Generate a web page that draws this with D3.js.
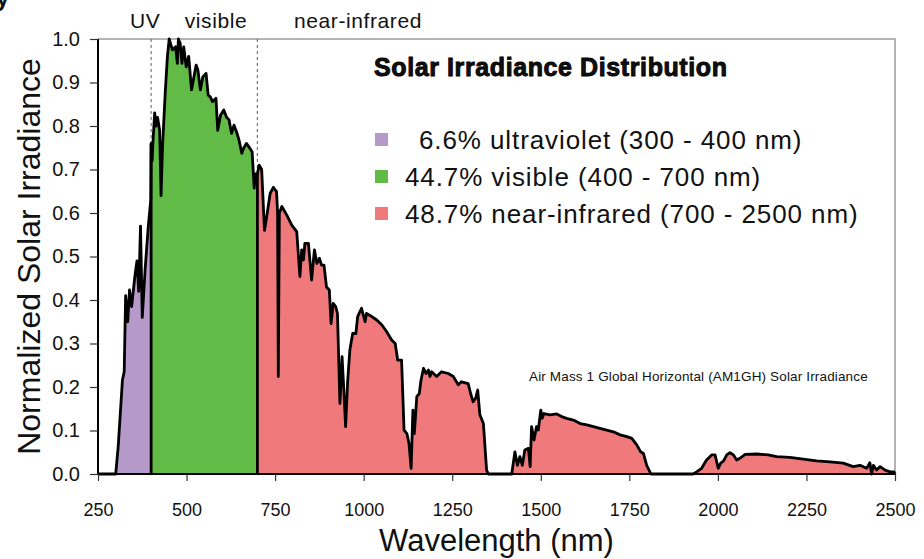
<!DOCTYPE html>
<html lang="en">
<head>
  <meta charset="UTF-8">
  <title>Solar Irradiance Distribution</title>
  <script src="https://d3js.org/d3.v7.min.js"></script>
  <style>
    body { margin: 0; background: #fff; }
    text { font-family: "Liberation Sans", Arial, sans-serif; fill: #111; }
  </style>
</head>
<body>
  <svg id="chart" width="924" height="559"></svg>

  <script>
    // wavelength (nm) and normalized irradiance
    const wavelengths = [250, 300, 307, 319, 324, 328, 334, 339, 345, 354, 360, 365, 370, 375, 383, 392, 399,
      400, 401, 403, 405, 410, 414, 418, 424, 428, 432, 440, 446, 451, 460, 469, 474, 477, 482, 487, 492, 499,
      506, 514, 527, 532, 539, 546, 555, 561, 567, 573, 583, 588, 596, 605, 613, 620, 627, 634, 641, 648, 656,
      661, 669, 676, 685, 691, 694, 700, 705, 712, 720, 726, 736, 745, 754, 757, 759, 762, 769, 783, 797, 811,
      820, 825, 830, 834, 844, 853, 861, 868, 875, 881, 888, 895, 903, 908, 914, 921, 926, 933, 939, 944, 949,
      955, 961, 969, 978, 983, 994, 1004, 1008, 1023, 1037, 1051, 1065, 1079, 1089, 1096, 1107, 1114, 1122,
      1128, 1134, 1139, 1143, 1150, 1157, 1162, 1169, 1176, 1183, 1187, 1192, 1206, 1220, 1239, 1253, 1267,
      1276, 1295, 1302, 1309, 1316, 1322, 1328, 1338, 1347, 1352, 1418, 1427, 1434, 1441, 1448, 1455, 1465,
      1470, 1474, 1481, 1488, 1493, 1500, 1504, 1509, 1526, 1545, 1559, 1573, 1592, 1611, 1630, 1649, 1667,
      1686, 1705, 1724, 1743, 1757, 1771, 1782, 1790, 1799, 1811, 1930, 1940, 1954, 1968, 1983, 1992, 2001,
      2008, 2016, 2025, 2034, 2044, 2053, 2062, 2077, 2110, 2142, 2166, 2203, 2241, 2279, 2316, 2354, 2382,
      2401, 2420, 2429, 2434, 2439, 2448, 2458, 2472, 2486, 2497, 2500];

    const irradiance = [0, 0, 0.063, 0.216, 0.235, 0.41, 0.35, 0.423, 0.385, 0.454, 0.49, 0.42, 0.57, 0.36, 0.47, 0.57, 0.63,
      0.76, 0.76, 0.72, 0.76, 0.83, 0.80, 0.82, 0.79, 0.64, 0.75, 0.88, 0.96, 1.0, 0.975, 0.982, 0.944, 1.0, 0.99, 0.944, 0.982, 0.936,
      0.96, 0.883, 0.94, 0.929, 0.883, 0.913, 0.921, 0.871, 0.867, 0.856, 0.864, 0.79, 0.825, 0.837, 0.82, 0.814, 0.783, 0.802, 0.787, 0.768, 0.737,
      0.749, 0.76, 0.752, 0.741, 0.657, 0.69, 0.69, 0.71, 0.70, 0.56, 0.59, 0.645, 0.659, 0.649, 0.60, 0.224, 0.60, 0.615, 0.595, 0.572, 0.557,
      0.454, 0.515, 0.492, 0.53, 0.53, 0.446, 0.515, 0.484, 0.496, 0.48, 0.48, 0.43, 0.423, 0.346, 0.392, 0.385, 0.369, 0.162, 0.27, 0.193, 0.109,
      0.216, 0.285, 0.323, 0.323, 0.362, 0.381, 0.35, 0.369, 0.362, 0.354, 0.343, 0.327, 0.308, 0.30, 0.262, 0.262, 0.101, 0.093,
      0.07, 0.013, 0.147, 0.093, 0.178, 0.185, 0.216, 0.243, 0.231, 0.239, 0.224, 0.235, 0.224, 0.235, 0.231, 0.224, 0.205,
      0.212, 0.208, 0.185, 0.166, 0.174, 0.193, 0.136, 0.116, 0.009, 0, 0, 0.051, 0.02, 0.04, 0.02, 0.055, 0.059,
      0.017, 0.109, 0.078, 0.109, 0.101, 0.147, 0.128, 0.139, 0.136, 0.138, 0.132, 0.128, 0.124, 0.116, 0.113, 0.109, 0.105,
      0.101, 0.097, 0.09, 0.086, 0.082, 0.067, 0.051, 0.047, 0.02, 0, 0, 0.005, 0.013, 0.032, 0.044, 0.044, 0.013,
      0.025, 0.03, 0.044, 0.049, 0.044, 0.032, 0.036, 0.045, 0.046, 0.044, 0.04, 0.038, 0.034, 0.03, 0.028, 0.025, 0.017,
      0.02, 0.013, 0.026, 0, 0.02, 0.009, 0.017, 0.009, 0.005, 0.005, 0];

    const bands = [
      { name: "uv", from: 250, to: 400, color: "#b59ac9" },
      { name: "visible", from: 400, to: 700, color: "#62bb46" },
      { name: "nir", from: 700, to: 2500, color: "#f07a7b" }
    ];
    const legendLabels = ["6.6% ultraviolet (300 - 400 nm)", "44.7% visible (400 - 700 nm)", "48.7% near-infrared (700 - 2500 nm)"];
    const bandLabels = [["UV", 383], ["visible", 583], ["near-infrared", 984]];
    const xTicks = [250, 500, 750, 1000, 1250, 1500, 1750, 2000, 2250, 2500];
    const yTicks = [0, 0.1, 0.2, 0.3, 0.4, 0.5, 0.6, 0.7, 0.8, 0.9, 1.0];

    const data = wavelengths.map((w, i) => ({ w: w, v: irradiance[i] }));

    const svg = d3.select("#chart");
    const margin = { top: 39, right: 29, bottom: 85, left: 98 };
    const width = 924 - margin.left - margin.right;
    const height = 559 - margin.top - margin.bottom;

    const x = d3.scaleLinear().domain([250, 2500]).range([0, width]);
    const y = d3.scaleLinear().domain([0, 1]).range([height, 0]);

    const g = svg.append("g").attr("transform", `translate(${margin.left},${margin.top})`);

    // clip paths, one per band
    const defs = svg.append("defs");
    bands.forEach(b => {
      defs.append("clipPath").attr("id", "clip-" + b.name)
        .append("rect")
        .attr("x", x(b.from)).attr("y", 0)
        .attr("width", x(b.to) - x(b.from)).attr("height", height);
    });

    const area = d3.area().x(d => x(d.w)).y0(y(0)).y1(d => y(d.v));
    const line = d3.line().x(d => x(d.w)).y(d => y(d.v));

    bands.forEach(b => {
      g.append("path")
        .datum(data)
        .attr("d", area)
        .attr("fill", b.color)
        .attr("clip-path", `url(#clip-${b.name})`);
    });

    // frame top and right
    g.append("path")
      .attr("d", `M0,0H${width}V${height}`)
      .attr("fill", "none")
      .attr("stroke", "#b3b3b3")
      .attr("stroke-width", 2);

    // dashed band borders
    [400, 700].forEach(w => {
      const v = data.find(d => d.w === w).v;
      g.append("line")
        .attr("x1", x(w)).attr("x2", x(w))
        .attr("y1", 0).attr("y2", y(v))
        .attr("stroke", "#777").attr("stroke-width", 1.2)
        .attr("stroke-dasharray", "3,3");
      g.append("line")
        .attr("x1", x(w)).attr("x2", x(w))
        .attr("y1", y(0)).attr("y2", y(v))
        .attr("stroke", "#000").attr("stroke-width", 2.8);
    });

    g.append("path")
      .datum(data)
      .attr("d", line)
      .attr("fill", "none")
      .attr("stroke", "#000")
      .attr("stroke-width", 2.8)
      .attr("stroke-linejoin", "round");

    // axes
    const xAxis = g.append("g")
      .attr("transform", `translate(0,${height})`)
      .call(d3.axisBottom(x).tickValues(xTicks).tickFormat(d3.format("d")).tickSize(7).tickPadding(22));
    const yAxis = g.append("g")
      .call(d3.axisLeft(y).tickValues(yTicks).tickFormat(d3.format(".1f")).tickSize(8).tickPadding(10));
    [xAxis, yAxis].forEach(a => {
      a.select(".domain").attr("stroke", "#000").attr("stroke-width", 2);
      a.selectAll(".tick line").attr("stroke", "#333").attr("stroke-width", 1.2);
      a.selectAll(".tick text").attr("font-family", "Liberation Sans, Arial, sans-serif").attr("fill", "#111");
    });
    xAxis.selectAll(".tick text").attr("font-size", 18);
    yAxis.selectAll(".tick text").attr("font-size", 20);
    yAxis.select(".domain").attr("d", `M0,0V${height}`);
    xAxis.select(".domain").attr("d", `M0,0H${width}`);

    // axis titles
    svg.append("text")
      .attr("x", margin.left + width / 2).attr("y", 551)
      .attr("text-anchor", "middle")
      .attr("font-size", 31)
      .text("Wavelength (nm)");
    svg.append("text")
      .attr("transform", `translate(40,${margin.top + height / 2}) rotate(-90)`)
      .attr("text-anchor", "middle")
      .attr("font-size", 32)
      .text("Normalized Solar Irradiance");

    // band labels above the plot
    bandLabels.forEach(([t, w]) => {
      svg.append("text")
        .attr("x", margin.left + x(w)).attr("y", 28)
        .attr("text-anchor", "middle")
        .attr("font-size", 21)
        .attr("letter-spacing", 0.6)
        .text(t);
    });

    // title
    g.append("text")
      .attr("x", 276).attr("y", 37)
      .attr("font-size", 25)
      .attr("font-weight", "bold")
      .attr("letter-spacing", 0.6)
      .attr("font-family", "DejaVu Sans, sans-serif")
      .attr("stroke", "#000").attr("stroke-width", 0.9)
      .attr("fill", "#000")
      .text("Solar Irradiance Distribution");

    // legend
    const legend = g.append("g").attr("transform", "translate(277,100)");
    bands.forEach((b, i) => {
      const row = legend.append("g").attr("transform", `translate(0,${i * 37})`);
      row.append("rect").attr("x", 0).attr("y", -6).attr("width", 13).attr("height", 13).attr("fill", b.color);
      row.append("text").attr("x", i === 0 ? 44 : 30).attr("y", 10)
        .attr("font-size", 26)
        .attr("letter-spacing", 0.9)
        .text(legendLabels[i]);
    });

    g.append("text")
      .attr("x", 431).attr("y", 342)
      .attr("font-size", 13.5)
      .attr("letter-spacing", 0.15)
      .text("Air Mass 1 Global Horizontal (AM1GH) Solar Irradiance");

    // clipped glyph in the upper-left corner
    svg.append("text").attr("x", -4).attr("y", 6)
      .attr("font-size", 24).attr("font-weight", "bold").text("y");
  </script>
</body>
</html>
